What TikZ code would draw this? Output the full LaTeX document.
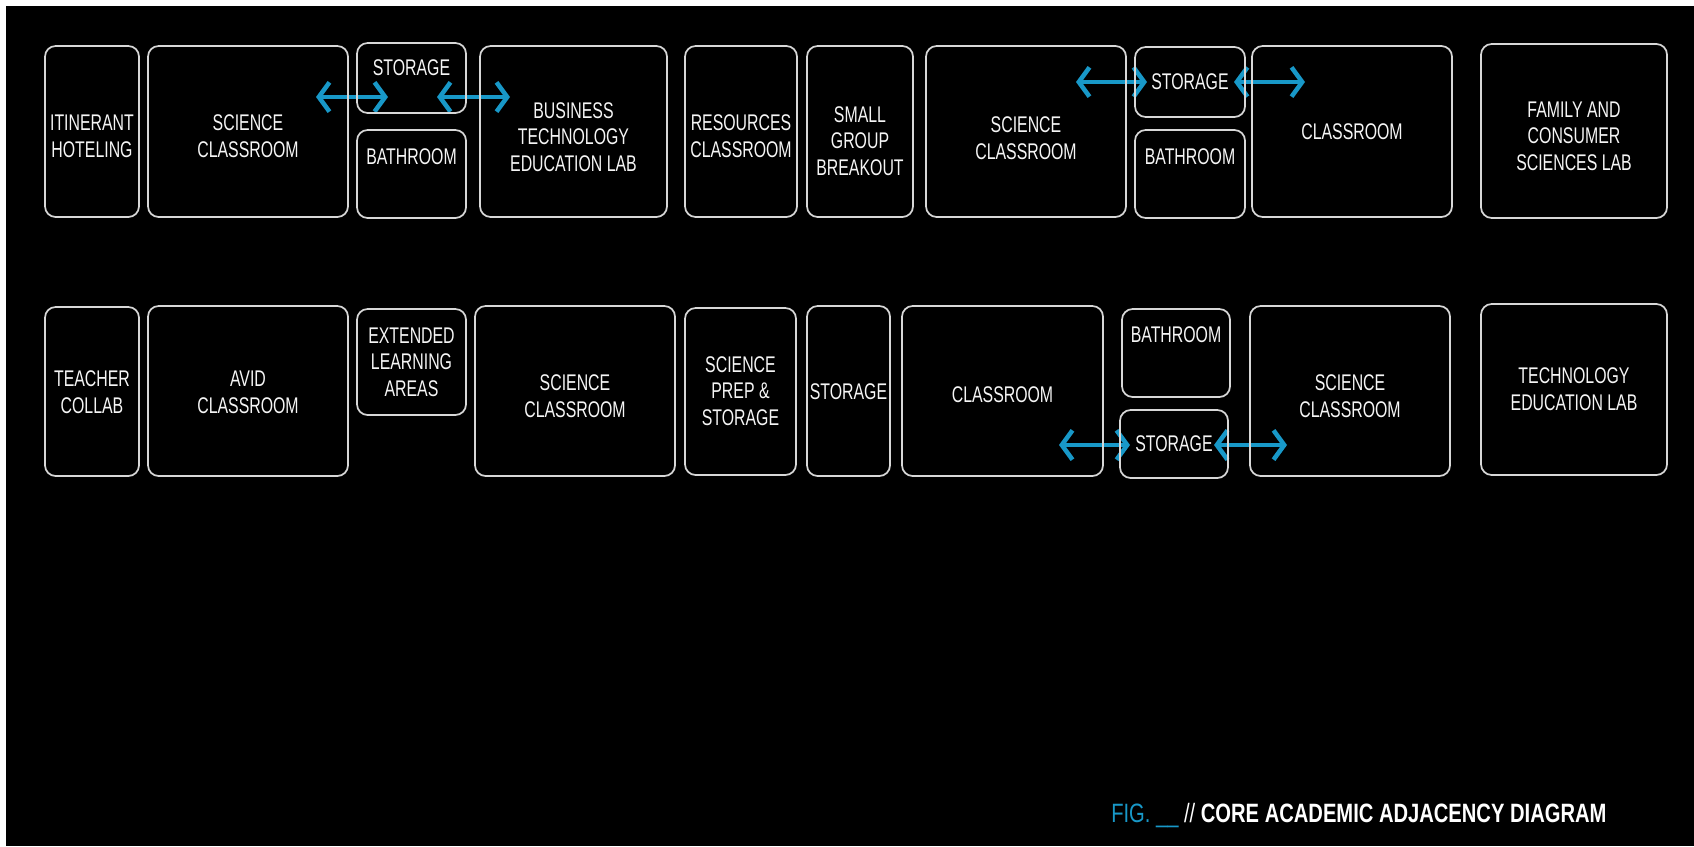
\documentclass[tikz,border=0pt]{standalone}
\usepackage{fontspec}
\setmainfont[FakeStretch=0.70]{Liberation Sans}
\newfontfamily\capfont[FakeStretch=0.76]{Liberation Sans}
\usetikzlibrary{arrows.meta,fit,calc}
\definecolor{adjblue}{RGB}{24,152,200}
\definecolor{roomline}{RGB}{215,215,215}
\definecolor{roomtext}{RGB}{245,245,245}
\newcommand\roomat[7]{%
  \pgfmathsetmacro\rcx{(#2+#4)/2}%
  \node[room,fit={(#2,#3) (#4,#5)}] (#1) {};
  \node[lbl] (#1-t) at (\rcx,#6) {#7};
}
\begin{document}
\begin{tikzpicture}[x=0.75pt,y=-0.75pt,
  room/.style={draw=roomline,line width=1.3pt,rounded corners=8pt,inner sep=0pt},
  lbl/.style={text=roomtext,font=\fontsize{17}{20}\selectfont,align=center,inner sep=0pt},
  adj/.style={draw=adjblue,line width=3.4pt,
    {Straight Barb[length=8pt,width=22pt]}-{Straight Barb[length=8pt,width=22pt]}}]
\useasboundingbox (0,0) rectangle (1694,846);
\fill[white] (0,0) rectangle (1694,846);
\fill[black] (6,6) rectangle (1694,846);

% arrow end points
\coordinate (a1s) at (316,97);  \coordinate (a1e) at (388,97);
\coordinate (a2s) at (437,97);  \coordinate (a2e) at (510,97);
\coordinate (a3s) at (1076,82); \coordinate (a3e) at (1147,82);
\coordinate (a4s) at (1234,82); \coordinate (a4e) at (1305,82);
\coordinate (a5s) at (1059,445); \coordinate (a5e) at (1130,445);
\coordinate (a6s) at (1214,445); \coordinate (a6e) at (1287,445);
\draw[adj] (a1s) -- (a1e);
\draw[adj] (a2s) -- (a2e);
\draw[adj] (a3s) -- (a3e);
\draw[adj] (a4s) -- (a4e);
\draw[adj] (a5s) -- (a5e);
\draw[adj] (a6s) -- (a6e);

% top row
\roomat{itin}{45}{46}{139}{217}{136}{ITINERANT\\HOTELING}
\roomat{sci1}{148}{46}{348}{217}{136}{SCIENCE\\CLASSROOM}
\roomat{sto1}{357}{43}{466}{113}{68}{STORAGE}
\roomat{bath1}{357}{130}{466}{218}{157}{BATHROOM}
\roomat{bus}{480}{46}{667}{217}{137}{BUSINESS\\TECHNOLOGY\\EDUCATION LAB}
\roomat{res}{685}{46}{797}{217}{136}{RESOURCES\\CLASSROOM}
\roomat{small}{807}{46}{913}{217}{141}{SMALL\\GROUP\\BREAKOUT}
\roomat{sci2}{926}{46}{1126}{217}{138}{SCIENCE\\CLASSROOM}
\roomat{sto2}{1135}{47}{1245}{117}{82}{STORAGE}
\roomat{bath2}{1135}{130}{1245}{218}{157}{BATHROOM}
\roomat{cls1}{1252}{46}{1452}{217}{132}{CLASSROOM}
\roomat{fam}{1481}{44}{1667}{218}{136}{FAMILY AND\\CONSUMER\\SCIENCES LAB}

% bottom row
\roomat{teach}{45}{307}{139}{476}{392}{TEACHER\\COLLAB}
\roomat{avid}{148}{306}{348}{476}{392}{AVID\\CLASSROOM}
\roomat{ext}{357}{309}{466}{415}{362}{EXTENDED\\LEARNING\\AREAS}
\roomat{sci3}{475}{306}{675}{476}{396}{SCIENCE\\CLASSROOM}
\roomat{prep}{685}{308}{796}{475}{391}{SCIENCE\\PREP \&\\STORAGE}
\roomat{sto3}{807}{306}{890}{476}{392}{STORAGE}
\roomat{cls2}{902}{306}{1103}{476}{395}{CLASSROOM}
\roomat{bath3}{1122}{309}{1230}{397}{335}{BATHROOM}
\roomat{sto4}{1120}{410}{1228}{478}{444}{STORAGE}
\roomat{sci4}{1250}{306}{1450}{476}{396}{SCIENCE\\CLASSROOM}
\roomat{tech}{1481}{304}{1667}{475}{389}{TECHNOLOGY\\EDUCATION LAB}

% caption
\node[anchor=base west,inner sep=0pt,font=\capfont\fontsize{19.9}{22}\selectfont] (caption) at (1111,822)
  {\textcolor{adjblue}{FIG. \_\_} \textcolor{white}{// \bfseries CORE ACADEMIC ADJACENCY DIAGRAM}};
\end{tikzpicture}
\end{document}
